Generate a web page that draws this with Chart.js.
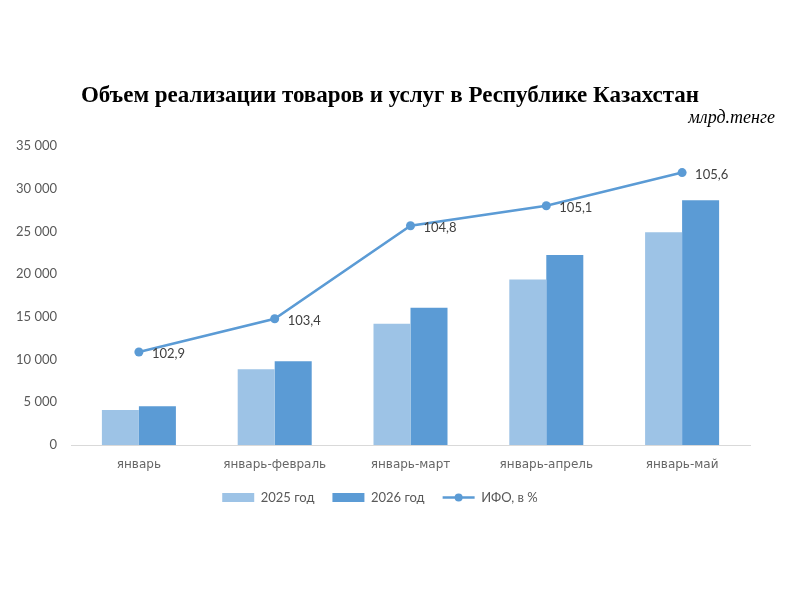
<!DOCTYPE html>
<html>
<head>
<meta charset="utf-8">
<script src="https://cdn.jsdelivr.net/npm/chart.js@4/dist/chart.umd.min.js"></script>
<style>
  html, body { margin: 0; padding: 0; background: #fff; }
  #wrap { width: 800px; height: 600px; position: relative; }
</style>
</head>
<body>
<div id="wrap"><canvas id="chart" width="800" height="600"></canvas></div>
<script>
// Данные графика
const periods = ['январь', 'январь-февраль', 'январь-март', 'январь-апрель', 'январь-май'];
const sales2025 = [4100, 8870, 14200, 19370, 24900];
const sales2026 = [4550, 9800, 16060, 22250, 28660];
const ifo = [102.9, 103.4, 104.8, 105.1, 105.6];

const titleText = 'Объем реализации товаров и услуг в Республике Казахстан';
const unitText = 'млрд.тенге';

const fmtThousands = v => String(v).replace(/\B(?=(\d{3})+(?!\d))/g, ' ');

// Заголовок и единицы измерения
const titlePlugin = {
  id: 'titlePlugin',
  afterDraw(chart) {
    const ctx = chart.ctx;
    ctx.save();
    ctx.fillStyle = '#000';
    ctx.textBaseline = 'alphabetic';
    ctx.font = 'bold 23px "Liberation Serif", "Times New Roman", serif';
    ctx.textAlign = 'center';
    ctx.fillText(titleText, 390, 102);
    ctx.font = 'italic 18px "Liberation Serif", "Times New Roman", serif';
    ctx.textAlign = 'right';
    ctx.fillText(unitText, 775, 123);
    ctx.restore();
  }
};

// Подписи значений ИФО справа от точек
const ifoLabels = {
  id: 'ifoLabels',
  afterDatasetsDraw(chart) {
    const meta = chart.getDatasetMeta(2);
    const ctx = chart.ctx;
    ctx.save();
    ctx.font = '13px Lato, "Open Sans", sans-serif';
    ctx.fillStyle = '#404040';
    ctx.textAlign = 'left';
    ctx.textBaseline = 'middle';
    meta.data.forEach((pt, i) => {
      ctx.fillText(ifo[i].toFixed(1).replace('.', ','), pt.x + 13, pt.y + 2);
    });
    ctx.restore();
  }
};

// Точка на линии в легенде
const legendDot = {
  id: 'legendDot',
  afterDraw(chart) {
    const lg = chart.legend;
    if (!lg || !lg.legendHitBoxes) return;
    const idx = lg.legendItems.findIndex(it => it.datasetIndex === 2);
    const hb = lg.legendHitBoxes[idx];
    if (!hb) return;
    const ctx = chart.ctx;
    ctx.save();
    ctx.fillStyle = '#5B9BD5';
    ctx.beginPath();
    ctx.arc(hb.left + 16, hb.top + hb.height / 2, 4, 0, Math.PI * 2);
    ctx.fill();
    ctx.restore();
  }
};

new Chart(document.getElementById('chart'), {
  data: {
    labels: periods,
    datasets: [
      {
        type: 'bar',
        label: '2025 год',
        data: sales2025,
        backgroundColor: '#9DC3E6',
        yAxisID: 'y',
        order: 2
      },
      {
        type: 'bar',
        label: '2026 год',
        data: sales2026,
        backgroundColor: '#5B9BD5',
        yAxisID: 'y',
        order: 2
      },
      {
        type: 'line',
        label: 'ИФО, в %',
        data: ifo,
        borderColor: '#5B9BD5',
        backgroundColor: '#5B9BD5',
        borderWidth: 2.5,
        pointRadius: 4.5,
        pointBackgroundColor: '#5B9BD5',
        pointBorderWidth: 0,
        tension: 0,
        yAxisID: 'y1',
        order: 1
      }
    ]
  },
  options: {
    responsive: false,
    animation: false,
    layout: { padding: { top: 146, left: 10, right: 50, bottom: 86 } },
    datasets: {
      bar: { categoryPercentage: 0.545, barPercentage: 1 }
    },
    scales: {
      x: {
        grid: { display: false },
        border: { color: '#d9d9d9', width: 1 },
        afterFit(scale) { scale.height = 28; },
        ticks: { color: '#666', font: { family: 'DejaVu Sans', size: 12 }, maxRotation: 0, padding: 5 }
      },
      y: {
        min: 0,
        max: 35000,
        grid: { display: false },
        border: { display: false },
        afterFit(scale) { scale.width = 61; },
        ticks: {
          stepSize: 5000,
          color: '#595959',
          font: { family: 'Lato', size: 13 },
          padding: 6,
          callback: v => fmtThousands(v)
        }
      },
      y1: {
        display: false,
        min: 101.5,
        max: 106
      }
    },
    plugins: {
      tooltip: { enabled: false },
      legend: {
        position: 'bottom',
        labels: {
          color: '#595959',
          font: { family: 'Lato', size: 13 },
          usePointStyle: true,
          pointStyleWidth: 32,
          boxHeight: 9,
          boxWidth: 32,
          padding: 18,
          sort: (a, b) => a.datasetIndex - b.datasetIndex,
          generateLabels(chart) {
            const items = Chart.defaults.plugins.legend.labels.generateLabels(chart);
            return items.map(it => {
              if (it.datasetIndex < 2) {
                it.pointStyle = 'rect';
                it.lineWidth = 0;
              } else {
                it.pointStyle = 'line';
                it.lineWidth = 2.5;
                it.strokeStyle = '#5B9BD5';
              }
              return it;
            });
          }
        }
      }
    }
  },
  plugins: [titlePlugin, ifoLabels, legendDot]
});
</script>
</body>
</html>
